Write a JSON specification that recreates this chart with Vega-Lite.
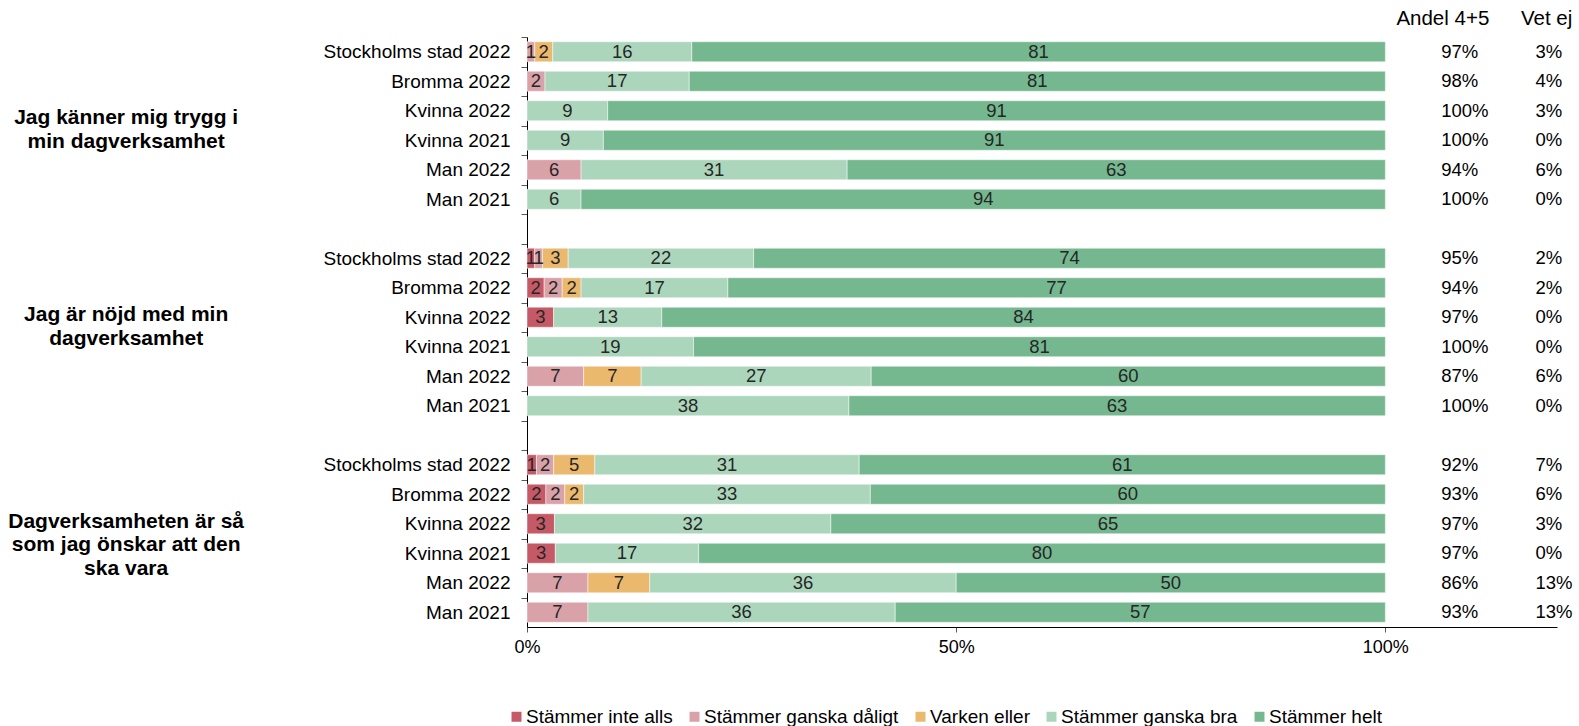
{
  "$schema": "https://vega.github.io/schema/vega-lite/v6.json",
  "autosize": {"type": "none"},
  "padding": {"left": 527, "top": 37, "right": 22, "bottom": 99},
  "width": 1030,
  "height": 590,
  "config": {
    "font": "Liberation Sans",
    "view": {"stroke": null},
    "axis": {"labelFont": "Liberation Sans", "labelColor": "#000000", "labelFontSize": 18.5}
  },
  "datasets": {
    "bars": [
      {"k": "a|Stockholms stad 2022", "r": "Stämmer ganska dåligt", "o": 2, "v": 0.9},
      {"k": "a|Stockholms stad 2022", "r": "Varken eller", "o": 3, "v": 2.1},
      {"k": "a|Stockholms stad 2022", "r": "Stämmer ganska bra", "o": 4, "v": 16.2},
      {"k": "a|Stockholms stad 2022", "r": "Stämmer helt", "o": 5, "v": 80.8},
      {"k": "a|Bromma 2022", "r": "Stämmer ganska dåligt", "o": 2, "v": 2.1},
      {"k": "a|Bromma 2022", "r": "Stämmer ganska bra", "o": 4, "v": 16.8},
      {"k": "a|Bromma 2022", "r": "Stämmer helt", "o": 5, "v": 81.1},
      {"k": "a|Kvinna 2022", "r": "Stämmer ganska bra", "o": 4, "v": 9.4},
      {"k": "a|Kvinna 2022", "r": "Stämmer helt", "o": 5, "v": 90.6},
      {"k": "a|Kvinna 2021", "r": "Stämmer ganska bra", "o": 4, "v": 8.9},
      {"k": "a|Kvinna 2021", "r": "Stämmer helt", "o": 5, "v": 91.1},
      {"k": "a|Man 2022", "r": "Stämmer ganska dåligt", "o": 2, "v": 6.3},
      {"k": "a|Man 2022", "r": "Stämmer ganska bra", "o": 4, "v": 31.0},
      {"k": "a|Man 2022", "r": "Stämmer helt", "o": 5, "v": 62.7},
      {"k": "a|Man 2021", "r": "Stämmer ganska bra", "o": 4, "v": 6.3},
      {"k": "a|Man 2021", "r": "Stämmer helt", "o": 5, "v": 93.7},
      {"k": "b|Stockholms stad 2022", "r": "Stämmer inte alls", "o": 1, "v": 0.9},
      {"k": "b|Stockholms stad 2022", "r": "Stämmer ganska dåligt", "o": 2, "v": 0.9},
      {"k": "b|Stockholms stad 2022", "r": "Varken eller", "o": 3, "v": 3.0},
      {"k": "b|Stockholms stad 2022", "r": "Stämmer ganska bra", "o": 4, "v": 21.6},
      {"k": "b|Stockholms stad 2022", "r": "Stämmer helt", "o": 5, "v": 73.6},
      {"k": "b|Bromma 2022", "r": "Stämmer inte alls", "o": 1, "v": 2.0},
      {"k": "b|Bromma 2022", "r": "Stämmer ganska dåligt", "o": 2, "v": 2.1},
      {"k": "b|Bromma 2022", "r": "Varken eller", "o": 3, "v": 2.2},
      {"k": "b|Bromma 2022", "r": "Stämmer ganska bra", "o": 4, "v": 17.1},
      {"k": "b|Bromma 2022", "r": "Stämmer helt", "o": 5, "v": 76.6},
      {"k": "b|Kvinna 2022", "r": "Stämmer inte alls", "o": 1, "v": 3.1},
      {"k": "b|Kvinna 2022", "r": "Stämmer ganska bra", "o": 4, "v": 12.6},
      {"k": "b|Kvinna 2022", "r": "Stämmer helt", "o": 5, "v": 84.3},
      {"k": "b|Kvinna 2021", "r": "Stämmer ganska bra", "o": 4, "v": 19.4},
      {"k": "b|Kvinna 2021", "r": "Stämmer helt", "o": 5, "v": 80.6},
      {"k": "b|Man 2022", "r": "Stämmer ganska dåligt", "o": 2, "v": 6.6},
      {"k": "b|Man 2022", "r": "Varken eller", "o": 3, "v": 6.7},
      {"k": "b|Man 2022", "r": "Stämmer ganska bra", "o": 4, "v": 26.8},
      {"k": "b|Man 2022", "r": "Stämmer helt", "o": 5, "v": 59.9},
      {"k": "b|Man 2021", "r": "Stämmer ganska bra", "o": 4, "v": 37.5},
      {"k": "b|Man 2021", "r": "Stämmer helt", "o": 5, "v": 62.5},
      {"k": "c|Stockholms stad 2022", "r": "Stämmer inte alls", "o": 1, "v": 1.1},
      {"k": "c|Stockholms stad 2022", "r": "Stämmer ganska dåligt", "o": 2, "v": 2.0},
      {"k": "c|Stockholms stad 2022", "r": "Varken eller", "o": 3, "v": 4.8},
      {"k": "c|Stockholms stad 2022", "r": "Stämmer ganska bra", "o": 4, "v": 30.8},
      {"k": "c|Stockholms stad 2022", "r": "Stämmer helt", "o": 5, "v": 61.3},
      {"k": "c|Bromma 2022", "r": "Stämmer inte alls", "o": 1, "v": 2.2},
      {"k": "c|Bromma 2022", "r": "Stämmer ganska dåligt", "o": 2, "v": 2.2},
      {"k": "c|Bromma 2022", "r": "Varken eller", "o": 3, "v": 2.2},
      {"k": "c|Bromma 2022", "r": "Stämmer ganska bra", "o": 4, "v": 33.4},
      {"k": "c|Bromma 2022", "r": "Stämmer helt", "o": 5, "v": 60.0},
      {"k": "c|Kvinna 2022", "r": "Stämmer inte alls", "o": 1, "v": 3.2},
      {"k": "c|Kvinna 2022", "r": "Stämmer ganska bra", "o": 4, "v": 32.2},
      {"k": "c|Kvinna 2022", "r": "Stämmer helt", "o": 5, "v": 64.6},
      {"k": "c|Kvinna 2021", "r": "Stämmer inte alls", "o": 1, "v": 3.3},
      {"k": "c|Kvinna 2021", "r": "Stämmer ganska bra", "o": 4, "v": 16.7},
      {"k": "c|Kvinna 2021", "r": "Stämmer helt", "o": 5, "v": 80.0},
      {"k": "c|Man 2022", "r": "Stämmer ganska dåligt", "o": 2, "v": 7.1},
      {"k": "c|Man 2022", "r": "Varken eller", "o": 3, "v": 7.2},
      {"k": "c|Man 2022", "r": "Stämmer ganska bra", "o": 4, "v": 35.7},
      {"k": "c|Man 2022", "r": "Stämmer helt", "o": 5, "v": 50.0},
      {"k": "c|Man 2021", "r": "Stämmer ganska dåligt", "o": 2, "v": 7.1},
      {"k": "c|Man 2021", "r": "Stämmer ganska bra", "o": 4, "v": 35.8},
      {"k": "c|Man 2021", "r": "Stämmer helt", "o": 5, "v": 57.1}
    ],
    "side": [
      {"k": "a|Stockholms stad 2022", "andel": 0.97, "vetej": 0.03},
      {"k": "a|Bromma 2022", "andel": 0.98, "vetej": 0.04},
      {"k": "a|Kvinna 2022", "andel": 1.0, "vetej": 0.03},
      {"k": "a|Kvinna 2021", "andel": 1.0, "vetej": 0.0},
      {"k": "a|Man 2022", "andel": 0.94, "vetej": 0.06},
      {"k": "a|Man 2021", "andel": 1.0, "vetej": 0.0},
      {"k": "b|Stockholms stad 2022", "andel": 0.95, "vetej": 0.02},
      {"k": "b|Bromma 2022", "andel": 0.94, "vetej": 0.02},
      {"k": "b|Kvinna 2022", "andel": 0.97, "vetej": 0.0},
      {"k": "b|Kvinna 2021", "andel": 1.0, "vetej": 0.0},
      {"k": "b|Man 2022", "andel": 0.87, "vetej": 0.06},
      {"k": "b|Man 2021", "andel": 1.0, "vetej": 0.0},
      {"k": "c|Stockholms stad 2022", "andel": 0.92, "vetej": 0.07},
      {"k": "c|Bromma 2022", "andel": 0.93, "vetej": 0.06},
      {"k": "c|Kvinna 2022", "andel": 0.97, "vetej": 0.03},
      {"k": "c|Kvinna 2021", "andel": 0.97, "vetej": 0.0},
      {"k": "c|Man 2022", "andel": 0.86, "vetej": 0.13},
      {"k": "c|Man 2021", "andel": 0.93, "vetej": 0.13}
    ],
    "groups": [
      {"k": "a|Kvinna 2022", "label": ["Jag känner mig trygg i", "min dagverksamhet"]},
      {"k": "b|Kvinna 2022", "label": ["Jag är nöjd med min", "dagverksamhet"]},
      {"k": "c|Kvinna 2022", "label": ["Dagverksamheten är så", "som jag önskar att den", "ska vara"]}
    ],
    "headers": [
      {"k": "a|Stockholms stad 2022", "h": "Andel 4+5"}
    ]
  },
  "layer": [
    {
      "data": {"name": "bars"},
      "transform": [
        {"stack": "v", "groupby": ["k"], "sort": [{"field": "o", "order": "ascending"}], "as": ["x0", "x1"]}
      ],
      "mark": {"type": "bar", "height": {"band": 0.68}, "stroke": "#ffffff", "strokeWidth": 0.8, "strokeOpacity": 0.6},
      "encoding": {
        "y": {
          "field": "k", "type": "nominal",
          "scale": {
            "domain": ["a|Stockholms stad 2022", "a|Bromma 2022", "a|Kvinna 2022", "a|Kvinna 2021", "a|Man 2022", "a|Man 2021", "gap1",
                       "b|Stockholms stad 2022", "b|Bromma 2022", "b|Kvinna 2022", "b|Kvinna 2021", "b|Man 2022", "b|Man 2021", "gap2",
                       "c|Stockholms stad 2022", "c|Bromma 2022", "c|Kvinna 2022", "c|Kvinna 2021", "c|Man 2022", "c|Man 2021"],
            "paddingInner": 0, "paddingOuter": 0
          },
          "axis": {
            "title": null,
            "labelExpr": "indexof(datum.value, '|') > 0 ? substring(datum.value, 2) : ''",
            "tickOffset": -14.75,
            "labelOffset": 14.75,
            "tickSize": 6,
            "tickColor": "#595959",
            "domainColor": "#000000",
            "labelPadding": 11,
            "labelLimit": 400,
            "labelFontSize": 19
          }
        },
        "x": {
          "field": "x0", "type": "quantitative",
          "scale": {"domain": [0, 120], "nice": false, "zero": true},
          "axis": {
            "title": null,
            "values": [0, 50, 100],
            "labelExpr": "datum.value + '%'",
            "labelFlush": false,
            "grid": false,
            "tickSize": 5,
            "tickColor": "#595959",
            "domainColor": "#000000",
            "labelPadding": 6,
            "labelFontSize": 18
          }
        },
        "x2": {"field": "x1"},
        "color": {
          "field": "r", "type": "nominal",
          "scale": {
            "domain": ["Stämmer inte alls", "Stämmer ganska dåligt", "Varken eller", "Stämmer ganska bra", "Stämmer helt"],
            "range": ["#c55a66", "#d9a1a8", "#ebb96e", "#acd6bc", "#75b890"]
          },
          "legend": {
            "title": null,
            "orient": "none",
            "legendX": -20,
            "legendY": 670,
            "direction": "horizontal",
            "symbolType": "square",
            "symbolSize": 100,
            "symbolStrokeWidth": 0,
            "labelFontSize": 19,
            "labelLimit": 400,
            "labelColor": "#000000",
            "labelOffset": 0,
            "columnPadding": 12
          }
        }
      }
    },
    {
      "data": {"name": "bars"},
      "transform": [
        {"stack": "v", "groupby": ["k"], "sort": [{"field": "o", "order": "ascending"}], "as": ["x0", "x1"]},
        {"calculate": "(datum.x0 + datum.x1) / 2", "as": "mid"}
      ],
      "mark": {"type": "text", "fontSize": 18.5, "color": "#262626", "align": "center", "baseline": "middle"},
      "encoding": {
        "y": {"field": "k", "type": "nominal"},
        "x": {"field": "mid", "type": "quantitative"},
        "text": {"field": "v", "type": "quantitative", "format": ".0f"}
      }
    },
    {
      "data": {"name": "side"},
      "mark": {"type": "text", "fontSize": 18.5, "color": "#000000", "align": "left", "baseline": "middle"},
      "encoding": {
        "y": {"field": "k", "type": "nominal"},
        "x": {"datum": 106.5},
        "text": {"field": "andel", "type": "quantitative", "format": ".0%"}
      }
    },
    {
      "data": {"name": "side"},
      "mark": {"type": "text", "fontSize": 18.5, "color": "#000000", "align": "left", "baseline": "middle"},
      "encoding": {
        "y": {"field": "k", "type": "nominal"},
        "x": {"datum": 117.5},
        "text": {"field": "vetej", "type": "quantitative", "format": ".0%"}
      }
    },
    {
      "data": {"name": "headers"},
      "mark": {"type": "text", "fontSize": 20.5, "color": "#000000", "align": "center", "baseline": "middle", "dy": -33},
      "encoding": {
        "y": {"field": "k", "type": "nominal"},
        "x": {"datum": 106.7},
        "text": {"field": "h", "type": "nominal"}
      }
    },
    {
      "data": {"name": "headers"},
      "mark": {"type": "text", "fontSize": 20.5, "color": "#000000", "align": "left", "baseline": "middle", "dy": -33, "text": "Vet ej"},
      "encoding": {
        "y": {"field": "k", "type": "nominal"},
        "x": {"datum": 115.8}
      }
    },
    {
      "data": {"name": "groups"},
      "transform": [{"filter": "datum.k == 'a|Kvinna 2022'"}],
      "mark": {"type": "text", "fontSize": 21, "fontWeight": "bold", "color": "#000000", "align": "center", "baseline": "middle", "lineHeight": 23.5, "dy": 7.5},
      "encoding": {
        "y": {"field": "k", "type": "nominal"},
        "x": {"datum": -46.7},
        "text": {"field": "label", "type": "nominal"}
      }
    },
    {
      "data": {"name": "groups"},
      "transform": [{"filter": "datum.k != 'a|Kvinna 2022'"}],
      "mark": {"type": "text", "fontSize": 21, "fontWeight": "bold", "color": "#000000", "align": "center", "baseline": "middle", "lineHeight": 23.5, "dy": -2},
      "encoding": {
        "y": {"field": "k", "type": "nominal"},
        "x": {"datum": -46.7},
        "text": {"field": "label", "type": "nominal"}
      }
    }
  ]
}
